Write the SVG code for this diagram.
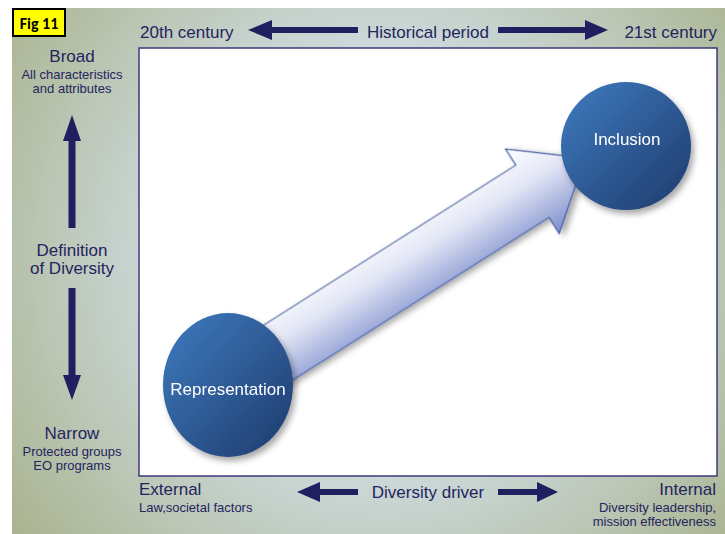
<svg xmlns="http://www.w3.org/2000/svg" width="725" height="534" viewBox="0 0 725 534">
  <defs>
    <radialGradient id="bgGrad" cx="380" cy="260" r="480" gradientUnits="userSpaceOnUse">
      <stop offset="0" stop-color="#dbe7ec"/>
      <stop offset="0.45" stop-color="#ccd8d9"/>
      <stop offset="1" stop-color="#a6b088"/>
    </radialGradient>
    <linearGradient id="ballGrad" x1="0" y1="0" x2="1" y2="1">
      <stop offset="0" stop-color="#3f7cc0"/>
      <stop offset="1" stop-color="#1e3a6c"/>
    </linearGradient>
    <linearGradient id="bigArrowGrad" x1="0" y1="-50" x2="0" y2="50" gradientUnits="userSpaceOnUse">
      <stop offset="0" stop-color="#ffffff"/>
      <stop offset="0.4" stop-color="#e2e6f5"/>
      <stop offset="1" stop-color="#7d8dcc"/>
    </linearGradient>
    <filter id="shadow" x="-20%" y="-20%" width="150%" height="150%">
      <feGaussianBlur in="SourceAlpha" stdDeviation="3"/>
      <feOffset dx="3" dy="4" result="b"/>
      <feComponentTransfer><feFuncA type="linear" slope="0.35"/></feComponentTransfer>
      <feMerge><feMergeNode/><feMergeNode in="SourceGraphic"/></feMerge>
    </filter>
  </defs>
  <style>
    .lbl { font-family: "Liberation Sans", Arial, sans-serif; fill: #24245e; }
    .big { font-size: 17px; }
    .small { font-size: 13px; }
    .dark { fill: #202060; }
    .node-text { font-family: "Liberation Sans", Arial, sans-serif; font-size: 17px; fill: #ffffff; text-anchor: middle; }
  </style>

  <!-- page background -->
  <rect x="0" y="0" width="725" height="534" fill="#ffffff"/>
  <rect x="12" y="8" width="713" height="526" fill="url(#bgGrad)"/>

  <!-- figure tag -->
  <g id="fig-tag">
    <rect x="13" y="9" width="52" height="27" fill="#ffff00" stroke="#000000" stroke-width="2"/>
    <text x="39" y="29" font-family="Carlito, 'Liberation Sans', sans-serif" font-size="16" font-weight="bold" text-anchor="middle" fill="#000000">Fig 11</text>
  </g>

  <!-- plot area -->
  <rect x="139" y="48" width="578" height="428" fill="#ffffff" stroke="#3c3a78" stroke-width="1.5"/>

  <!-- top axis -->
  <g id="axis-top">
    <text class="lbl big" x="140" y="38">20th century</text>
    <text class="lbl big" x="428" y="38" text-anchor="middle">Historical period</text>
    <text class="lbl big" x="717" y="38" text-anchor="end">21st century</text>
    <path class="dark" d="M248,30 L272,20 L272,27 L358,27 L358,33 L272,33 L272,40 Z"/>
    <path class="dark" d="M608,30 L585,20 L585,27 L498,27 L498,33 L585,33 L585,40 Z"/>
  </g>

  <!-- left axis -->
  <g id="axis-left">
    <text class="lbl big" x="72" y="62" text-anchor="middle">Broad</text>
    <text class="lbl small" x="72" y="79" text-anchor="middle">All characteristics</text>
    <text class="lbl small" x="72" y="93" text-anchor="middle">and attributes</text>
    <text class="lbl big" x="72" y="256" text-anchor="middle">Definition</text>
    <text class="lbl big" x="72" y="274" text-anchor="middle">of Diversity</text>
    <text class="lbl big" x="72" y="439" text-anchor="middle">Narrow</text>
    <text class="lbl small" x="72" y="456" text-anchor="middle">Protected groups</text>
    <text class="lbl small" x="72" y="470" text-anchor="middle">EO programs</text>
    <path class="dark" d="M72,115 L81,141 L75.5,141 L75.5,228 L68.5,228 L68.5,141 L63,141 Z"/>
    <path class="dark" d="M72,400 L81,375 L75.5,375 L75.5,288 L68.5,288 L68.5,375 L63,375 Z"/>
  </g>

  <!-- bottom axis -->
  <g id="axis-bottom">
    <text class="lbl big" x="139" y="495">External</text>
    <text class="lbl small" x="139" y="512">Law,societal factors</text>
    <text class="lbl big" x="428" y="498" text-anchor="middle">Diversity driver</text>
    <text class="lbl big" x="716" y="495" text-anchor="end">Internal</text>
    <text class="lbl small" x="716" y="512" text-anchor="end">Diversity leadership,</text>
    <text class="lbl small" x="716" y="526" text-anchor="end">mission effectiveness</text>
    <path class="dark" d="M297,492 L320,482 L320,489 L358,489 L358,495 L320,495 L320,502 Z"/>
    <path class="dark" d="M558,492 L537,482 L537,489 L498,489 L498,495 L537,495 L537,502 Z"/>
  </g>

  <!-- connector: broad arrow from Representation to Inclusion -->
  <g id="connectors">
    <g transform="translate(280,351.5) rotate(-32.4)" filter="url(#shadow)">
      <path d="M-30,-31 L299,-31 L299,-50 L361,0 L299,50 L299,31 L-30,31 Z" fill="url(#bigArrowGrad)" stroke="#3f5aa2" stroke-width="1.2" stroke-linejoin="miter"/>
    </g>
  </g>

  <!-- nodes -->
  <g id="node-representation" filter="url(#shadow)">
    <ellipse cx="228" cy="385" rx="65" ry="72" fill="url(#ballGrad)"/>
    <text class="node-text" x="228" y="395">Representation</text>
  </g>
  <g id="node-inclusion" filter="url(#shadow)">
    <ellipse cx="626" cy="146" rx="65" ry="64" fill="url(#ballGrad)"/>
    <text class="node-text" x="627" y="145">Inclusion</text>
  </g>
</svg>
